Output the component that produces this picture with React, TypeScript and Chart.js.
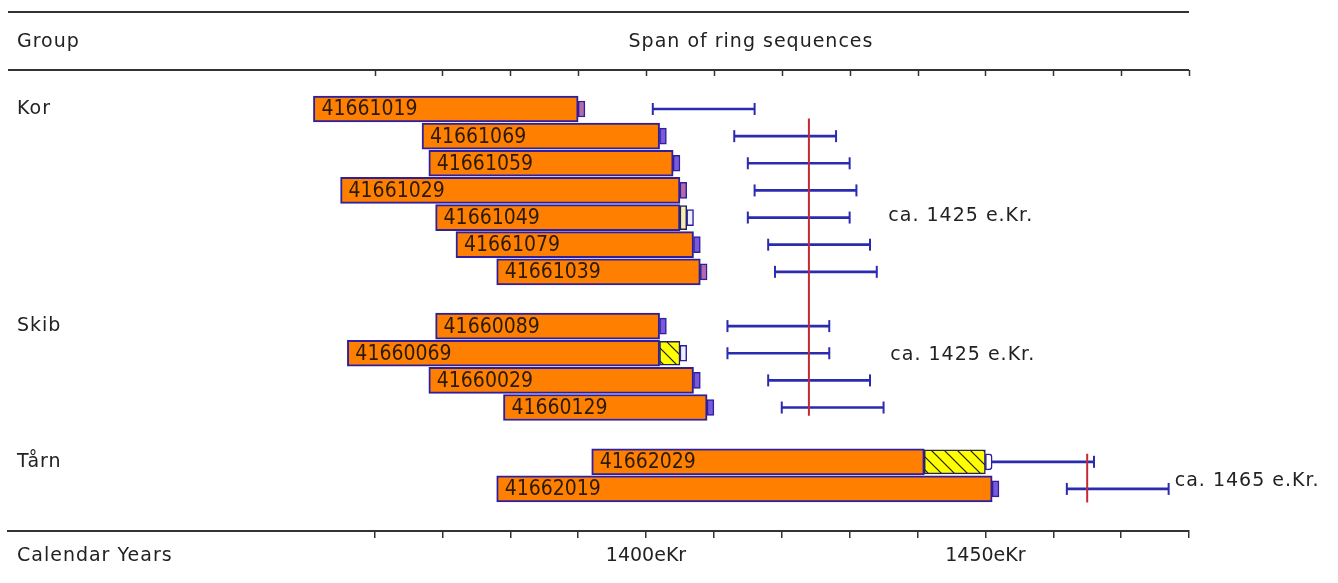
import React, { useEffect, useRef } from "react";
import { Chart, registerables } from "chart.js";

Chart.register(...registerables);

// ---------- data ----------
const sampleIds = [
  "41661019", "41661069", "41661059", "41661029", "41661049", "41661079", "41661039",
  "41660089", "41660069", "41660029", "41660129",
  "41662029", "41662019",
];
const sampleRows = [0, 1, 2, 3, 4, 5, 6, 8, 9, 10, 11, 13, 14];
const ringStart = [1351, 1367, 1368, 1355, 1369, 1372, 1378, 1369, 1356, 1368, 1379, 1392, 1378];
const ringEnd = [1390, 1402, 1404, 1405, 1405, 1407, 1408, 1402, 1402, 1407, 1409, 1441, 1451];

const sapSample = [4, 8, 11];
const sapStart = [1405, 1402, 1441];
const sapEnd = [1406, 1405, 1450];
const sapKind = ["pale", "hatch", "hatch"];

const markerStart = [1390, 1402, 1404, 1405, 1406, 1407, 1408, 1402, 1405, 1407, 1409, 1450, 1451];
const markerEnd = [1391, 1403, 1405, 1406, 1407, 1408, 1409, 1403, 1406, 1408, 1410, 1451, 1452];
const markerKind = ["red", "blue", "blue", "red", "white", "blue", "red", "blue", "white", "blue", "blue", "round", "blue"];

const datingLow = [1401, 1413, 1415, 1416, 1415, 1418, 1419, 1412, 1412, 1418, 1420, 1451, 1462];
const datingHigh = [1416, 1428, 1430, 1431, 1430, 1433, 1434, 1427, 1427, 1433, 1435, 1466, 1477];

const groupNames = ["Kor", "Skib", "Tårn"];
const groupRows = [0, 8, 13];
const groupEstimate = [1424, 1424, 1465];
const estimateFrom = [0.35, 7, 12.7];
const estimateTo = [7, 11.3, 14.5];
const estimateLabels = ["ca. 1425 e.Kr.", "ca. 1425 e.Kr.", "ca. 1465 e.Kr."];

const tickYears = [1360, 1370, 1380, 1390, 1400, 1410, 1420, 1430, 1440, 1450, 1460, 1470, 1480];
const labelledYears = [1400, 1450];

// ---------- styles ----------
const ORANGE = "#ff8000";
const BORDER = "#2e1f9e";
const BLUE = "#2b2bb0";
const RED = "#c42a36";
const COMIC = "'DejaVu Sans', sans-serif";
const BARFONT = "'DejaVu Sans Condensed', 'DejaVu Sans', sans-serif";
const MARKER_FILL: Record<string, string> = {
  red: "#b56aa8",
  blue: "#7a5ad8",
  white: "#eef0ff",
  round: "#ffffff",
};
const LABEL_POS = [
  { year: 1435.7, row: 3.95 },
  { year: 1436.0, row: 9.05 },
  { year: 1477.9, row: 13.7 },
];

function makeHatch(): CanvasPattern | string {
  const s = 13;
  const c = document.createElement("canvas");
  c.width = s;
  c.height = s;
  const g = c.getContext("2d");
  if (!g) return "#ffff00";
  g.fillStyle = "#ffff00";
  g.fillRect(0, 0, s, s);
  g.strokeStyle = "#1a1a1a";
  g.lineWidth = 1.2;
  g.beginPath();
  g.moveTo(-2, -2);
  g.lineTo(s + 2, s + 2);
  g.moveTo(-2, s - 2);
  g.lineTo(2, s + 2);
  g.moveTo(s - 2, -2);
  g.lineTo(s + 2, 2);
  g.stroke();
  return g.createPattern(c, "repeat") || "#ffff00";
}

export default function App() {
  const ref = useRef<HTMLCanvasElement | null>(null);

  useEffect(() => {
    const canvas = ref.current;
    if (!canvas) return;
    const hatch = makeHatch();

    const framePlugin = {
      id: "frame",
      beforeDatasetsDraw(chart: any) {
        const { ctx, chartArea } = chart;
        const x = chart.scales.x;
        const y = chart.scales.y;
        ctx.save();
        ctx.strokeStyle = "#333";
        ctx.lineWidth = 2;
        ctx.beginPath();
        ctx.moveTo(chartArea.left, 12);
        ctx.lineTo(chartArea.right, 12);
        ctx.moveTo(chartArea.left, chartArea.top);
        ctx.lineTo(chartArea.right, chartArea.top);
        ctx.stroke();
        ctx.lineWidth = 1.5;
        ctx.beginPath();
        tickYears.forEach((v) => {
          const px = Math.round(x.getPixelForValue(v)) + 0.5;
          ctx.moveTo(px, chartArea.top);
          ctx.lineTo(px, chartArea.top + 6);
        });
        ctx.stroke();

        ctx.fillStyle = "#222";
        ctx.font = `19px ${COMIC}`;
        (ctx as any).letterSpacing = "1px";
        ctx.textBaseline = "middle";
        ctx.textAlign = "left";
        ctx.fillText("Group", 17, 42);
        ctx.fillText("Calendar Years", 17, 556);
        groupNames.forEach((g, i) => ctx.fillText(g, 17, y.getPixelForValue(groupRows[i])));
        estimateLabels.forEach((t, i) =>
          ctx.fillText(t, x.getPixelForValue(LABEL_POS[i].year), y.getPixelForValue(LABEL_POS[i].row))
        );
        ctx.textAlign = "center";
        ctx.fillText("Span of ring sequences", 751, 42);
        (ctx as any).letterSpacing = "0px";
        ctx.restore();
      },
      afterDatasetsDraw(chart: any) {
        const { ctx } = chart;
        const x = chart.scales.x;
        const y = chart.scales.y;
        ctx.save();
        ctx.fillStyle = "#2a1a0a";
        ctx.font = `21px ${BARFONT}`;
        ctx.textBaseline = "middle";
        ctx.textAlign = "left";
        sampleIds.forEach((id, i) => {
          ctx.fillText(id, x.getPixelForValue(ringStart[i]) + 8, y.getPixelForValue(sampleRows[i]) + 1);
        });
        ctx.restore();
      },
    };

    const capPoints: { x: number; y: number }[] = [];
    sampleRows.forEach((r, i) => {
      if (datingLow[i] > markerEnd[i]) capPoints.push({ x: datingLow[i], y: r });
      capPoints.push({ x: datingHigh[i], y: r });
    });

    const datasets: any[] = [
      ...groupEstimate.map((yr, i) => ({
        type: "line",
        data: [
          { x: yr, y: estimateFrom[i] },
          { x: yr, y: estimateTo[i] },
        ],
        borderColor: RED,
        borderWidth: 2,
        pointRadius: 0,
        fill: false,
        order: 0,
      })),
      {
        type: "scatter",
        data: capPoints,
        pointStyle: "line",
        rotation: 90,
        radius: 6,
        borderColor: BLUE,
        borderWidth: 2,
        order: 1,
      },
      {
        type: "bar",
        indexAxis: "y",
        grouped: false,
        data: sampleRows.map((r, i) => ({ x: [datingLow[i], datingHigh[i]], y: r })),
        backgroundColor: BLUE,
        borderWidth: 0,
        barThickness: 2,
        order: 2,
      },
      {
        type: "bar",
        indexAxis: "y",
        grouped: false,
        data: sampleRows.map((r, i) => ({ x: [markerStart[i], markerEnd[i]], y: r })),
        backgroundColor: markerKind.map((k) => MARKER_FILL[k]),
        borderColor: BORDER,
        borderWidth: 1.5,
        borderSkipped: false,
        borderRadius: markerKind.map((k) =>
          k === "round" ? { topLeft: 0, bottomLeft: 0, topRight: 5, bottomRight: 5 } : 0
        ),
        barThickness: 16,
        order: 3,
      },
      {
        type: "bar",
        indexAxis: "y",
        grouped: false,
        data: sapSample.map((s, i) => ({ x: [sapStart[i], sapEnd[i]], y: sampleRows[s] })),
        backgroundColor: sapKind.map((k) => (k === "hatch" ? hatch : "#f4eeb0")),
        borderColor: "#23235a",
        borderWidth: 1.5,
        borderSkipped: false,
        barThickness: 24,
        order: 4,
      },
      {
        type: "bar",
        indexAxis: "y",
        grouped: false,
        data: sampleRows.map((r, i) => ({ x: [ringStart[i], ringEnd[i]], y: r })),
        backgroundColor: ORANGE,
        borderColor: BORDER,
        borderWidth: 2,
        borderSkipped: false,
        barThickness: 26,
        order: 5,
      },
    ];

    const chart = new Chart(canvas, {
      type: "bar",
      data: { datasets },
      options: {
        animation: false,
        responsive: false,
        events: [],
        layout: { padding: { left: 6, right: 149, top: 70, bottom: 0 } },
        plugins: { legend: { display: false }, tooltip: { enabled: false } },
        scales: {
          x: {
            type: "linear",
            position: "bottom",
            offset: false,
            min: 1306,
            max: 1480,
            afterBuildTicks: (s: any) => {
              s.ticks = tickYears.map((v) => ({ value: v }));
            },
            afterFit: (s: any) => {
              s.height = 52;
            },
            grid: { offset: false, drawOnChartArea: false, drawTicks: true, tickLength: 7, color: "#333", lineWidth: 1.5 },
            border: { display: true, color: "#333", width: 2 },
            ticks: {
              autoSkip: false,
              maxRotation: 0,
              padding: 7,
              color: "#222",
              font: { family: COMIC, size: 19 },
              callback: (v: any) => (labelledYears.includes(Number(v)) ? `${v}eKr` : ""),
            },
          },
          y: {
            type: "linear",
            reverse: true,
            offset: false,
            grid: { offset: false },
            min: -1.437,
            max: 15.55,
            display: false,
          },
        },
      },
      plugins: [framePlugin],
    } as any);

    return () => chart.destroy();
  }, []);

  return (
    <div style={{ position: "absolute", left: 0, top: 0, width: 1338, height: 583, background: "#fff" }}>
      <canvas ref={ref} width={1338} height={583} style={{ display: "block" }} />
    </div>
  );
}
